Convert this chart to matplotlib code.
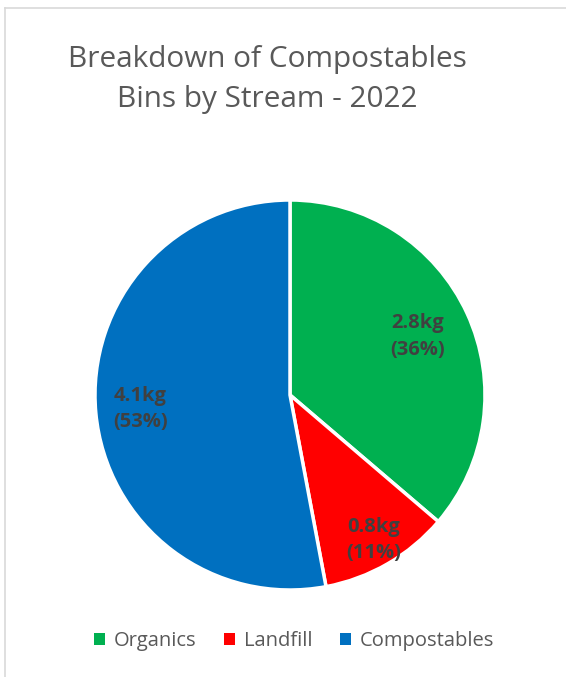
import matplotlib
matplotlib.use("Agg")
import matplotlib.pyplot as plt
from matplotlib.patches import Patch
import numpy as np

# compostables audit 2022, kg per stream
streams = ["Organics", "Landfill", "Compostables"]
weights = [2.82, 0.84, 4.12]
colours = ["#00B050", "#FF0000", "#0070C0"]

plt.rcParams['font.family'] = ['Open Sans', 'DejaVu Sans']

W, H = 566, 677
fig = plt.figure(figsize=(W / 100, H / 100), dpi=100)

# thin grey frame on top and left edge
fig.add_artist(plt.Line2D([5 / W, 1], [1 - 8 / H, 1 - 8 / H], color="#D9D9D9", lw=1.2))
fig.add_artist(plt.Line2D([5 / W, 5 / W], [0, 1 - 8 / H], color="#D9D9D9", lw=1.2))

fig.text(267 / W, 1 - 79 / H, "Breakdown of Compostables\nBins by Stream - 2022",
         ha="center", va="center", fontsize=21.4, color="#595959", linespacing=1.5)

cx, cy, r = 290, 395, 195
ax = fig.add_axes([(cx - r) / W, (H - cy - r) / H, 2 * r / W, 2 * r / H])
wedges, _ = ax.pie(weights, colors=colours, startangle=90, counterclock=False,
                   radius=1, wedgeprops=dict(edgecolor="white", linewidth=2.5))
ax.set_xlim(-1, 1)
ax.set_ylim(-1, 1)
ax.set_aspect("equal")
ax.axis("off")

total = sum(weights)
label_r = [0.72, 0.86, 0.77]
for w, val, lr in zip(wedges, weights, label_r):
    ang = np.deg2rad((w.theta1 + w.theta2) / 2)
    ax.text(lr * np.cos(ang), lr * np.sin(ang),
            f"{val:.1f}kg\n({val / total * 100:.0f}%)",
            ha="center", va="center", fontsize=14.5, fontweight="bold",
            color="#404040", linespacing=1.45)

handles = [Patch(facecolor=c, edgecolor="none") for c in colours]
fig.legend(handles, streams, loc="center", bbox_to_anchor=(294 / W, 1 - 641 / H),
           ncol=3, frameon=False, fontsize=14.5, handlelength=0.55, handleheight=0.55,
           handletextpad=0.45, columnspacing=1.35, labelcolor="#595959")

fig.savefig("out.png", dpi=100)
